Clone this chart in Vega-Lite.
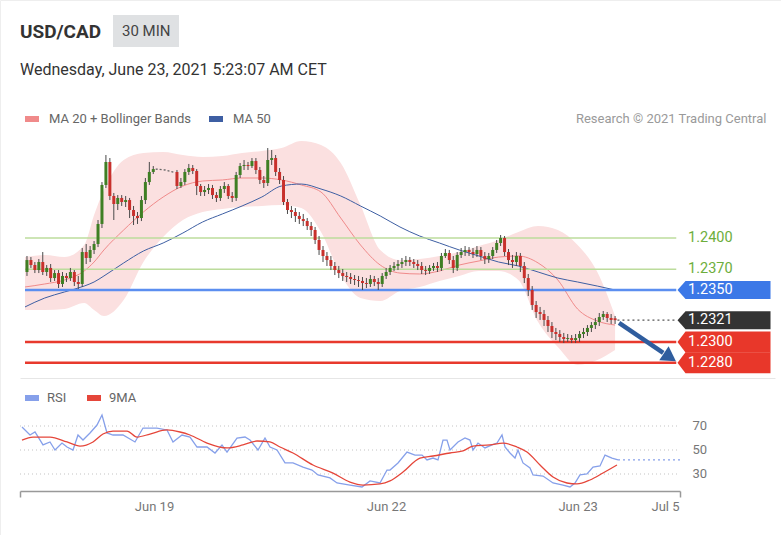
{
  "$schema": "https://vega.github.io/schema/vega-lite/v6.json",
  "width": 781,
  "height": 535,
  "autosize": {"type": "none"},
  "padding": 0,
  "background": "white",
  "title": {
    "text": "USD/CAD",
    "subtitle": "Wednesday, June 23, 2021 5:23:07 AM CET",
    "anchor": "start",
    "frame": "group",
    "orient": "top",
    "offset": 0,
    "dx": 20,
    "dy": 78,
    "fontSize": 19,
    "fontWeight": "bold",
    "color": "#333333",
    "subtitleFontSize": 16,
    "subtitleColor": "#333333",
    "subtitlePadding": 20
  },
  "datasets": {
    "ohlc": [
      {"k":0,"o":1.23673,"h":1.23827,"l":1.23635,"c":1.23788},
      {"k":1,"o":1.23788,"h":1.23817,"l":1.23712,"c":1.23740},
      {"k":2,"o":1.23740,"h":1.23769,"l":1.23663,"c":1.23692},
      {"k":3,"o":1.23692,"h":1.23798,"l":1.23663,"c":1.23769},
      {"k":4,"o":1.23769,"h":1.23865,"l":1.23644,"c":1.23673},
      {"k":5,"o":1.23673,"h":1.23740,"l":1.23635,"c":1.23712},
      {"k":6,"o":1.23712,"h":1.23750,"l":1.23577,"c":1.23615},
      {"k":7,"o":1.23615,"h":1.23692,"l":1.23587,"c":1.23663},
      {"k":8,"o":1.23663,"h":1.23692,"l":1.23519,"c":1.23558},
      {"k":9,"o":1.23558,"h":1.23673,"l":1.23529,"c":1.23635},
      {"k":10,"o":1.23635,"h":1.23663,"l":1.23577,"c":1.23615},
      {"k":11,"o":1.23615,"h":1.23712,"l":1.23587,"c":1.23673},
      {"k":12,"o":1.23673,"h":1.23692,"l":1.23538,"c":1.23577},
      {"k":13,"o":1.23577,"h":1.23635,"l":1.23510,"c":1.23558},
      {"k":14,"o":1.23558,"h":1.23904,"l":1.23529,"c":1.23865},
      {"k":15,"o":1.23865,"h":1.23942,"l":1.23750,"c":1.23808},
      {"k":16,"o":1.23808,"h":1.23923,"l":1.23769,"c":1.23885},
      {"k":17,"o":1.23885,"h":1.23971,"l":1.23846,"c":1.23942},
      {"k":18,"o":1.23942,"h":1.24173,"l":1.23913,"c":1.24135},
      {"k":19,"o":1.24135,"h":1.24538,"l":1.24096,"c":1.24510},
      {"k":20,"o":1.24510,"h":1.24798,"l":1.24481,"c":1.24731},
      {"k":21,"o":1.24731,"h":1.24769,"l":1.24365,"c":1.24404},
      {"k":22,"o":1.24404,"h":1.24433,"l":1.24173,"c":1.24327},
      {"k":23,"o":1.24327,"h":1.24413,"l":1.24269,"c":1.24385},
      {"k":24,"o":1.24385,"h":1.24413,"l":1.24308,"c":1.24346},
      {"k":25,"o":1.24346,"h":1.24404,"l":1.24298,"c":1.24365},
      {"k":26,"o":1.24365,"h":1.24385,"l":1.24192,"c":1.24269},
      {"k":27,"o":1.24269,"h":1.24308,"l":1.24125,"c":1.24212},
      {"k":28,"o":1.24212,"h":1.24250,"l":1.24135,"c":1.24192},
      {"k":29,"o":1.24192,"h":1.24404,"l":1.24163,"c":1.24365},
      {"k":30,"o":1.24365,"h":1.24577,"l":1.24327,"c":1.24538},
      {"k":31,"o":1.24538,"h":1.24731,"l":1.24510,"c":1.24635},
      {"k":32,"o":1.24635,"h":1.24692,"l":1.24615,"c":1.24663},
      {"k":38,"o":1.24635,"h":1.24654,"l":1.24471,"c":1.24500},
      {"k":39,"o":1.24500,"h":1.24577,"l":1.24481,"c":1.24538},
      {"k":40,"o":1.24538,"h":1.24663,"l":1.24510,"c":1.24635},
      {"k":41,"o":1.24635,"h":1.24712,"l":1.24606,"c":1.24673},
      {"k":42,"o":1.24673,"h":1.24702,"l":1.24615,"c":1.24644},
      {"k":43,"o":1.24644,"h":1.24663,"l":1.24413,"c":1.24500},
      {"k":44,"o":1.24500,"h":1.24519,"l":1.24404,"c":1.24442},
      {"k":45,"o":1.24442,"h":1.24500,"l":1.24404,"c":1.24462},
      {"k":46,"o":1.24462,"h":1.24519,"l":1.24423,"c":1.24481},
      {"k":47,"o":1.24481,"h":1.24510,"l":1.24375,"c":1.24413},
      {"k":48,"o":1.24413,"h":1.24442,"l":1.24346,"c":1.24385},
      {"k":49,"o":1.24385,"h":1.24500,"l":1.24356,"c":1.24471},
      {"k":50,"o":1.24471,"h":1.24538,"l":1.24433,"c":1.24500},
      {"k":51,"o":1.24500,"h":1.24519,"l":1.24375,"c":1.24404},
      {"k":52,"o":1.24404,"h":1.24442,"l":1.24346,"c":1.24385},
      {"k":53,"o":1.24385,"h":1.24635,"l":1.24356,"c":1.24606},
      {"k":54,"o":1.24606,"h":1.24721,"l":1.24577,"c":1.24692},
      {"k":55,"o":1.24692,"h":1.24750,"l":1.24654,"c":1.24702},
      {"k":56,"o":1.24702,"h":1.24731,"l":1.24654,"c":1.24692},
      {"k":57,"o":1.24692,"h":1.24769,"l":1.24673,"c":1.24740},
      {"k":58,"o":1.24740,"h":1.24769,"l":1.24615,"c":1.24654},
      {"k":59,"o":1.24654,"h":1.24683,"l":1.24519,"c":1.24558},
      {"k":60,"o":1.24558,"h":1.24596,"l":1.24481,"c":1.24529},
      {"k":61,"o":1.24529,"h":1.24865,"l":1.24500,"c":1.24750},
      {"k":62,"o":1.24750,"h":1.24846,"l":1.24702,"c":1.24769},
      {"k":63,"o":1.24769,"h":1.24798,"l":1.24596,"c":1.24635},
      {"k":64,"o":1.24635,"h":1.24673,"l":1.24519,"c":1.24558},
      {"k":65,"o":1.24558,"h":1.24596,"l":1.24317,"c":1.24346},
      {"k":66,"o":1.24346,"h":1.24375,"l":1.24231,"c":1.24269},
      {"k":67,"o":1.24269,"h":1.24308,"l":1.24192,"c":1.24250},
      {"k":68,"o":1.24250,"h":1.24288,"l":1.24154,"c":1.24212},
      {"k":69,"o":1.24212,"h":1.24250,"l":1.24135,"c":1.24183},
      {"k":70,"o":1.24183,"h":1.24231,"l":1.24115,"c":1.24163},
      {"k":71,"o":1.24163,"h":1.24192,"l":1.24077,"c":1.24115},
      {"k":72,"o":1.24115,"h":1.24154,"l":1.24019,"c":1.24077},
      {"k":73,"o":1.24077,"h":1.24106,"l":1.23942,"c":1.23981},
      {"k":74,"o":1.23981,"h":1.24019,"l":1.23837,"c":1.23885},
      {"k":75,"o":1.23885,"h":1.23923,"l":1.23769,"c":1.23827},
      {"k":76,"o":1.23827,"h":1.23865,"l":1.23731,"c":1.23788},
      {"k":77,"o":1.23788,"h":1.23827,"l":1.23692,"c":1.23731},
      {"k":78,"o":1.23731,"h":1.23769,"l":1.23644,"c":1.23692},
      {"k":79,"o":1.23692,"h":1.23731,"l":1.23615,"c":1.23663},
      {"k":80,"o":1.23663,"h":1.23702,"l":1.23587,"c":1.23635},
      {"k":81,"o":1.23635,"h":1.23673,"l":1.23577,"c":1.23625},
      {"k":82,"o":1.23625,"h":1.23663,"l":1.23558,"c":1.23606},
      {"k":83,"o":1.23606,"h":1.23644,"l":1.23548,"c":1.23596},
      {"k":84,"o":1.23596,"h":1.23635,"l":1.23529,"c":1.23587},
      {"k":85,"o":1.23587,"h":1.23625,"l":1.23500,"c":1.23567},
      {"k":86,"o":1.23567,"h":1.23615,"l":1.23519,"c":1.23558},
      {"k":87,"o":1.23558,"h":1.23644,"l":1.23529,"c":1.23606},
      {"k":88,"o":1.23606,"h":1.23635,"l":1.23538,"c":1.23577},
      {"k":89,"o":1.23577,"h":1.23615,"l":1.23500,"c":1.23558},
      {"k":90,"o":1.23558,"h":1.23663,"l":1.23529,"c":1.23635},
      {"k":91,"o":1.23635,"h":1.23712,"l":1.23606,"c":1.23673},
      {"k":92,"o":1.23673,"h":1.23740,"l":1.23644,"c":1.23712},
      {"k":93,"o":1.23712,"h":1.23769,"l":1.23683,"c":1.23731},
      {"k":94,"o":1.23731,"h":1.23788,"l":1.23692,"c":1.23750},
      {"k":95,"o":1.23750,"h":1.23808,"l":1.23712,"c":1.23769},
      {"k":96,"o":1.23769,"h":1.23827,"l":1.23731,"c":1.23788},
      {"k":97,"o":1.23788,"h":1.23817,"l":1.23731,"c":1.23769},
      {"k":98,"o":1.23769,"h":1.23798,"l":1.23712,"c":1.23750},
      {"k":99,"o":1.23750,"h":1.23788,"l":1.23692,"c":1.23731},
      {"k":100,"o":1.23731,"h":1.23769,"l":1.23654,"c":1.23692},
      {"k":101,"o":1.23692,"h":1.23731,"l":1.23644,"c":1.23683},
      {"k":102,"o":1.23683,"h":1.23740,"l":1.23654,"c":1.23712},
      {"k":103,"o":1.23712,"h":1.23760,"l":1.23683,"c":1.23731},
      {"k":104,"o":1.23731,"h":1.23769,"l":1.23673,"c":1.23712},
      {"k":105,"o":1.23712,"h":1.23856,"l":1.23683,"c":1.23827},
      {"k":106,"o":1.23827,"h":1.23894,"l":1.23808,"c":1.23856},
      {"k":107,"o":1.23856,"h":1.23885,"l":1.23750,"c":1.23788},
      {"k":108,"o":1.23788,"h":1.23827,"l":1.23663,"c":1.23712},
      {"k":109,"o":1.23712,"h":1.23865,"l":1.23683,"c":1.23837},
      {"k":110,"o":1.23837,"h":1.23904,"l":1.23808,"c":1.23865},
      {"k":111,"o":1.23865,"h":1.23923,"l":1.23827,"c":1.23885},
      {"k":112,"o":1.23885,"h":1.23913,"l":1.23827,"c":1.23865},
      {"k":113,"o":1.23865,"h":1.23904,"l":1.23808,"c":1.23846},
      {"k":114,"o":1.23846,"h":1.23923,"l":1.23817,"c":1.23885},
      {"k":115,"o":1.23885,"h":1.23913,"l":1.23788,"c":1.23827},
      {"k":116,"o":1.23827,"h":1.23865,"l":1.23750,"c":1.23798},
      {"k":117,"o":1.23798,"h":1.23856,"l":1.23760,"c":1.23827},
      {"k":118,"o":1.23827,"h":1.23913,"l":1.23798,"c":1.23885},
      {"k":119,"o":1.23885,"h":1.23981,"l":1.23856,"c":1.23952},
      {"k":120,"o":1.23952,"h":1.24029,"l":1.23923,"c":1.24000},
      {"k":121,"o":1.24000,"h":1.24019,"l":1.23827,"c":1.23865},
      {"k":122,"o":1.23865,"h":1.23894,"l":1.23740,"c":1.23788},
      {"k":123,"o":1.23788,"h":1.23837,"l":1.23712,"c":1.23769},
      {"k":124,"o":1.23769,"h":1.23865,"l":1.23731,"c":1.23827},
      {"k":125,"o":1.23827,"h":1.23856,"l":1.23673,"c":1.23731},
      {"k":126,"o":1.23731,"h":1.23769,"l":1.23567,"c":1.23615},
      {"k":127,"o":1.23615,"h":1.23654,"l":1.23442,"c":1.23500},
      {"k":128,"o":1.23500,"h":1.23538,"l":1.23308,"c":1.23356},
      {"k":129,"o":1.23356,"h":1.23394,"l":1.23231,"c":1.23288},
      {"k":130,"o":1.23288,"h":1.23337,"l":1.23212,"c":1.23269},
      {"k":131,"o":1.23269,"h":1.23308,"l":1.23154,"c":1.23212},
      {"k":132,"o":1.23212,"h":1.23250,"l":1.23096,"c":1.23154},
      {"k":133,"o":1.23154,"h":1.23192,"l":1.23038,"c":1.23096},
      {"k":134,"o":1.23096,"h":1.23135,"l":1.23019,"c":1.23077},
      {"k":135,"o":1.23077,"h":1.23115,"l":1.23000,"c":1.23048},
      {"k":136,"o":1.23048,"h":1.23087,"l":1.22990,"c":1.23029},
      {"k":137,"o":1.23029,"h":1.23077,"l":1.23000,"c":1.23038},
      {"k":138,"o":1.23038,"h":1.23067,"l":1.22990,"c":1.23019},
      {"k":139,"o":1.23019,"h":1.23077,"l":1.22990,"c":1.23038},
      {"k":140,"o":1.23038,"h":1.23106,"l":1.23000,"c":1.23077},
      {"k":141,"o":1.23077,"h":1.23135,"l":1.23038,"c":1.23096},
      {"k":142,"o":1.23096,"h":1.23163,"l":1.23058,"c":1.23135},
      {"k":143,"o":1.23135,"h":1.23192,"l":1.23096,"c":1.23163},
      {"k":144,"o":1.23163,"h":1.23231,"l":1.23125,"c":1.23192},
      {"k":145,"o":1.23192,"h":1.23279,"l":1.23154,"c":1.23240},
      {"k":146,"o":1.23240,"h":1.23298,"l":1.23212,"c":1.23269},
      {"k":147,"o":1.23269,"h":1.23288,"l":1.23192,"c":1.23231},
      {"k":148,"o":1.23231,"h":1.23269,"l":1.23173,"c":1.23212},
      {"k":149,"o":1.23228,"h":1.23250,"l":1.23173,"c":1.23210}
    ],
    "bands": [
      {"k":-0.5,"ma":1.23529,"up":1.23817,"lo":1.23308,"m50":1.23337},
      {"k":4.5,"ma":1.23558,"up":1.23837,"lo":1.23308,"m50":1.23423},
      {"k":9.5,"ma":1.23596,"up":1.23817,"lo":1.23317,"m50":1.23481},
      {"k":14.5,"ma":1.23683,"up":1.23933,"lo":1.23375,"m50":1.23538},
      {"k":17,"ma":1.23769,"up":1.24221,"lo":1.23308,"m50":1.23577},
      {"k":19.5,"ma":1.23885,"up":1.24462,"lo":1.23250,"m50":1.23635},
      {"k":24.5,"ma":1.24077,"up":1.24750,"lo":1.23404,"m50":1.23760},
      {"k":29.5,"ma":1.24250,"up":1.24817,"lo":1.23769,"m50":1.23875},
      {"k":34.5,"ma":1.24394,"up":1.24827,"lo":1.24010,"m50":1.23952},
      {"k":39.5,"ma":1.24500,"up":1.24798,"lo":1.24173,"m50":1.24048},
      {"k":44.5,"ma":1.24548,"up":1.24779,"lo":1.24250,"m50":1.24154},
      {"k":49.5,"ma":1.24558,"up":1.24788,"lo":1.24279,"m50":1.24231},
      {"k":54.5,"ma":1.24577,"up":1.24817,"lo":1.24298,"m50":1.24308},
      {"k":59.5,"ma":1.24577,"up":1.24837,"lo":1.24308,"m50":1.24394},
      {"k":64.5,"ma":1.24558,"up":1.24865,"lo":1.24317,"m50":1.24500},
      {"k":69.5,"ma":1.24510,"up":1.24933,"lo":1.24288,"m50":1.24519},
      {"k":74.5,"ma":1.24442,"up":1.24894,"lo":1.24058,"m50":1.24471},
      {"k":79.5,"ma":1.24192,"up":1.24721,"lo":1.23644,"m50":1.24404},
      {"k":84.5,"ma":1.23933,"up":1.24317,"lo":1.23423,"m50":1.24308},
      {"k":89.5,"ma":1.23740,"up":1.23885,"lo":1.23394,"m50":1.24212},
      {"k":94.5,"ma":1.23663,"up":1.23788,"lo":1.23490,"m50":1.24106},
      {"k":99.5,"ma":1.23654,"up":1.23798,"lo":1.23529,"m50":1.24019},
      {"k":104.5,"ma":1.23683,"up":1.23827,"lo":1.23587,"m50":1.23952},
      {"k":109.5,"ma":1.23740,"up":1.23865,"lo":1.23635,"m50":1.23885},
      {"k":114.5,"ma":1.23779,"up":1.23923,"lo":1.23683,"m50":1.23827},
      {"k":119.5,"ma":1.23817,"up":1.23981,"lo":1.23683,"m50":1.23769},
      {"k":124.5,"ma":1.23827,"up":1.24058,"lo":1.23596,"m50":1.23731},
      {"k":129.5,"ma":1.23760,"up":1.24115,"lo":1.23192,"m50":1.23673},
      {"k":134.5,"ma":1.23596,"up":1.24077,"lo":1.22952,"m50":1.23615},
      {"k":139.5,"ma":1.23317,"up":1.23933,"lo":1.22779,"m50":1.23577},
      {"k":144.5,"ma":1.23202,"up":1.23673,"lo":1.22827,"m50":1.23538},
      {"k":149,"ma":1.23163,"up":1.23250,"lo":1.22923,"m50":1.23500}
    ],
    "gap": [
      {"k":32.6,"p":1.24663},
      {"k":35,"p":1.24654},
      {"k":37.4,"p":1.24630}
    ],
    "levels": [
      {"p":1.2400,"label":"1.2400","kind":"res"},
      {"p":1.2370,"label":"1.2370","kind":"res"},
      {"p":1.2350,"label":"1.2350","kind":"pivot"},
      {"p":1.2321,"label":"1.2321","kind":"last"},
      {"p":1.2300,"label":"1.2300","kind":"sup"},
      {"p":1.2280,"label":"1.2280","kind":"sup"}
    ],
    "rsi": [
      {"k":0,"v":69.2},{"k":2,"v":62.5},{"k":3.25,"v":65},{"k":5.25,"v":54.2},
      {"k":7,"v":56.7},{"k":8.25,"v":50},{"k":10,"v":55.8},{"k":11.25,"v":52.5},
      {"k":12.75,"v":50},{"k":14,"v":62.5},{"k":15.25,"v":58.3},{"k":17,"v":64.2},
      {"k":18.75,"v":70.8},{"k":20,"v":79.2},{"k":21.25,"v":64.2},{"k":22.75,"v":62.5},
      {"k":25.25,"v":62.5},{"k":28.25,"v":56.7},{"k":30.25,"v":68.3},{"k":33.75,"v":68.3},
      {"k":36.25,"v":66.7},{"k":37.75,"v":56.7},{"k":40,"v":62.5},{"k":42,"v":60.8},
      {"k":43.75,"v":52.5},{"k":46.25,"v":52.5},{"k":48.25,"v":47.5},{"k":50,"v":54.2},
      {"k":51.25,"v":48.3},{"k":53.75,"v":60},{"k":55.75,"v":60.8},{"k":57,"v":58.3},
      {"k":59,"v":50},{"k":60.75,"v":60},{"k":62,"v":52.5},{"k":63.75,"v":50},
      {"k":65.75,"v":39.2},{"k":67.75,"v":39.2},{"k":70.25,"v":35.8},{"k":72.5,"v":33.3},
      {"k":74,"v":29.2},{"k":77,"v":26.7},{"k":78.75,"v":22.5},{"k":82,"v":20.8},
      {"k":85,"v":19.2},{"k":87,"v":24.2},{"k":89.5,"v":22.5},{"k":91.25,"v":33.3},
      {"k":92,"v":33.3},{"k":94,"v":39.2},{"k":96.25,"v":48.3},{"k":98.25,"v":45.8},
      {"k":100,"v":45.8},{"k":101.25,"v":41.7},{"k":102.75,"v":43.3},{"k":104,"v":41.7},
      {"k":105.25,"v":58.3},{"k":106.25,"v":58.3},{"k":107,"v":50},{"k":109,"v":56.7},
      {"k":110.75,"v":60},{"k":112,"v":58.3},{"k":112.75,"v":50},{"k":114,"v":55.8},
      {"k":115.75,"v":51.7},{"k":117.5,"v":54.2},{"k":118.75,"v":55.8},{"k":120,"v":62.5},
      {"k":120.75,"v":52.5},{"k":122,"v":47.5},{"k":123.25,"v":43.3},{"k":124,"v":50},
      {"k":125.25,"v":39.2},{"k":127,"v":35},{"k":127.75,"v":29.2},{"k":130.25,"v":28.3},
      {"k":132.75,"v":22.5},{"k":135.25,"v":20.8},{"k":137,"v":19.2},{"k":138.25,"v":22.5},
      {"k":139.5,"v":29.2},{"k":141.25,"v":30},{"k":142.75,"v":35.8},{"k":144.5,"v":36.7},
      {"k":145.75,"v":45.8},{"k":147.5,"v":43.3},{"k":149,"v":41.7}
    ],
    "ma9": [
      {"k":0,"v":58.3},{"k":2.75,"v":60.8},{"k":7,"v":60.8},{"k":11.25,"v":56.7},
      {"k":14.5,"v":53.3},{"k":17.75,"v":56.7},{"k":20.25,"v":63.3},{"k":22.75,"v":65.8},
      {"k":26.25,"v":65.8},{"k":28.75,"v":60.8},{"k":32,"v":63.3},{"k":36.25,"v":66.7},
      {"k":39.5,"v":65},{"k":42,"v":62.5},{"k":46.25,"v":55.8},{"k":51.25,"v":51.7},
      {"k":55.25,"v":54.2},{"k":58.75,"v":57.5},{"k":62,"v":56.7},{"k":64.5,"v":52.5},
      {"k":67.75,"v":47.5},{"k":72.75,"v":37.5},{"k":77.75,"v":30.8},{"k":82,"v":23.3},
      {"k":85.25,"v":20.8},{"k":89.5,"v":21.7},{"k":92,"v":24.2},{"k":95.25,"v":31.7},
      {"k":99.5,"v":43.3},{"k":102.75,"v":45},{"k":107,"v":47.5},{"k":110.25,"v":49.2},
      {"k":112.75,"v":53.3},{"k":117,"v":54.2},{"k":120.25,"v":55.8},{"k":123.75,"v":52.5},
      {"k":126.25,"v":48.3},{"k":129.5,"v":37.5},{"k":132.75,"v":27.5},{"k":136.25,"v":22.5},
      {"k":138.75,"v":21.7},{"k":142,"v":25},{"k":145.25,"v":30.8},{"k":148.75,"v":37.5}
    ],
    "rsigrid": [{"lvl":30},{"lvl":50},{"lvl":70}]
  },
  "layer": [
    {
      "layer": [
        {
          "data": {"name": "bands"},
          "mark": {"type": "area", "interpolate": "monotone", "color": "#fbe0e0"},
          "encoding": {
            "x": {
              "field": "k", "type": "quantitative",
              "scale": {"domain": [-0.5, 188.25], "range": [20, 775], "nice": false, "zero": false},
              "axis": {"orient": "bottom", "offset": -157, "labels": false, "ticks": false, "grid": false, "domainColor": "#e6e6e6", "title": null}
            },
            "y": {
              "field": "up", "type": "quantitative",
              "scale": {"domain": [1.226827, 1.249904], "range": [375, 135], "nice": false, "zero": false},
              "axis": {
                "orient": "right", "offset": -15, "labels": false, "ticks": false, "domain": false, "grid": false,
                "title": "Research © 2021 Trading Central", "titleAngle": 0, "titleAlign": "right", "titleBaseline": "middle",
                "titleX": 0, "titleY": 118, "titleColor": "#9a9a9a", "titleFontSize": 13, "titleFontWeight": "normal"
              }
            },
            "y2": {"field": "lo"}
          }
        },
        {
          "data": {"name": "bands"},
          "mark": {"type": "line", "interpolate": "monotone", "strokeWidth": 1},
          "encoding": {
            "x": {"field": "k", "type": "quantitative"},
            "y": {"field": "ma", "type": "quantitative"},
            "color": {
              "datum": "MA 20 + Bollinger Bands",
              "scale": {"domain": ["MA 20 + Bollinger Bands", "MA 50"], "range": ["#f08a8a", "#3e5fa3"]},
              "legend": {
                "orient": "none", "legendX": 22, "legendY": 109, "direction": "horizontal", "title": null,
                "symbolType": "stroke", "symbolStrokeWidth": 6, "symbolSize": 196,
                "labelFontSize": 13, "labelColor": "#666666", "labelOffset": 7, "columnPadding": 6, "padding": 0
              }
            }
          }
        },
        {
          "data": {"name": "bands"},
          "mark": {"type": "line", "interpolate": "monotone", "strokeWidth": 1},
          "encoding": {
            "x": {"field": "k", "type": "quantitative"},
            "y": {"field": "m50", "type": "quantitative"},
            "color": {"datum": "MA 50"}
          }
        },
        {
          "data": {"name": "levels"},
          "transform": [{"filter": "datum.kind == 'res'"}],
          "mark": {"type": "rule", "color": "#bcdc9c", "strokeWidth": 1.5},
          "encoding": {
            "x": {"datum": -0.5},
            "x2": {"datum": 164.5},
            "y": {"field": "p", "type": "quantitative"}
          }
        },
        {
          "data": {"name": "levels"},
          "transform": [{"filter": "datum.kind == 'pivot'"}],
          "mark": {"type": "rule", "color": "#5b8ef0", "strokeWidth": 2.5},
          "encoding": {
            "x": {"datum": -0.5},
            "x2": {"datum": 164.5},
            "y": {"field": "p", "type": "quantitative"}
          }
        },
        {
          "data": {"name": "levels"},
          "transform": [{"filter": "datum.kind == 'sup'"}],
          "mark": {"type": "rule", "color": "#e8392d", "strokeWidth": 2.5},
          "encoding": {
            "x": {"datum": -0.5},
            "x2": {"datum": 164.5},
            "y": {"field": "p", "type": "quantitative"}
          }
        },
        {
          "data": {"values": [{}]},
          "mark": {"type": "rule", "color": "#555555", "strokeWidth": 1.2},
          "encoding": {
            "x": {"datum": 149.6},
            "x2": {"datum": 164.5},
            "y": {"datum": 1.2321},
            "strokeDash": {
              "datum": "30 MIN",
              "scale": {"range": [[2, 3]]},
              "legend": {
                "orient": "none", "legendX": 113, "legendY": 15, "title": null,
                "fillColor": "#dfe1e3", "padding": 8,
                "symbolOpacity": 0, "symbolSize": 0, "symbolStrokeWidth": 0,
                "labelOffset": -14, "labelFontSize": 15, "labelColor": "#444444"
              }
            }
          }
        },
        {
          "data": {"name": "ohlc"},
          "mark": {"type": "rule", "color": "#4a4a4a", "strokeWidth": 1},
          "encoding": {
            "x": {"field": "k", "type": "quantitative"},
            "y": {"field": "l", "type": "quantitative"},
            "y2": {"field": "h"}
          }
        },
        {
          "data": {"name": "ohlc"},
          "mark": {"type": "bar", "width": 3},
          "encoding": {
            "x": {"field": "k", "type": "quantitative"},
            "y": {"field": "o", "type": "quantitative"},
            "y2": {"field": "c"},
            "color": {"condition": {"test": "datum.c >= datum.o", "value": "#3f7f24"}, "value": "#c8302c"}
          }
        },
        {
          "data": {"name": "gap"},
          "mark": {"type": "line", "strokeDash": [2, 2], "color": "#666666", "strokeWidth": 1.3},
          "encoding": {
            "x": {"field": "k", "type": "quantitative"},
            "y": {"field": "p", "type": "quantitative"}
          }
        },
        {
          "data": {"values": [{}]},
          "mark": {"type": "rule", "color": "#2f5d9e", "strokeWidth": 4.5},
          "encoding": {
            "x": {"datum": 150},
            "x2": {"datum": 161.2},
            "y": {"datum": 1.23183},
            "y2": {"datum": 1.22895}
          }
        },
        {
          "data": {"values": [{}]},
          "mark": {"type": "point", "shape": "triangle-up", "angle": 124, "size": 280, "filled": true, "opacity": 1, "color": "#2f5d9e"},
          "encoding": {
            "x": {"datum": 162.9},
            "y": {"datum": 1.22853}
          }
        },
        {
          "data": {"name": "levels"},
          "transform": [{"filter": "datum.kind != 'res'"}],
          "mark": {"type": "point", "filled": true, "opacity": 1, "size": 8649, "strokeWidth": 0},
          "encoding": {
            "x": {"datum": 176.6},
            "y": {"field": "p", "type": "quantitative"},
            "shape": {
              "field": "kind", "type": "nominal",
              "scale": {
                "domain": ["pivot", "last", "sup"],
                "range": [
                  "M-1,0L-0.828,-0.194L1,-0.194L1,0.194L-0.828,0.194Z",
                  "M-1,0L-0.828,-0.194L1,-0.194L1,0.194L-0.828,0.194Z",
                  "M-1,0L-0.828,-0.226L1,-0.226L1,0.226L-0.828,0.226Z"
                ]
              },
              "legend": null
            },
            "fill": {
              "field": "kind", "type": "nominal",
              "scale": {"domain": ["pivot", "last", "sup"], "range": ["#3b78e7", "#333333", "#e8372a"]},
              "legend": null
            }
          }
        },
        {
          "data": {"name": "levels"},
          "mark": {"type": "text", "align": "left", "baseline": "middle", "fontSize": 14.5},
          "encoding": {
            "x": {"datum": 167.5},
            "y": {"field": "p", "type": "quantitative"},
            "text": {"field": "label"},
            "color": {"condition": {"test": "datum.kind == 'res'", "value": "#6dae3c"}, "value": "#ffffff"}
          }
        }
      ]
    },
    {
      "layer": [
        {
          "data": {"name": "rsigrid"},
          "mark": {"type": "rule", "color": "#c4c4c4", "strokeDash": [1, 3], "strokeWidth": 1.2},
          "encoding": {
            "x": {"datum": -0.5},
            "x2": {"datum": 164.5},
            "y": {"field": "lvl", "type": "quantitative"}
          }
        },
        {
          "data": {"name": "rsi"},
          "mark": {"type": "line", "strokeWidth": 1.3},
          "encoding": {
            "x": {
              "field": "k", "type": "quantitative",
              "scale": {"domain": [-0.5, 164.5], "range": [20, 680], "nice": false, "zero": false},
              "axis": {
                "orient": "bottom", "offset": -44, "title": null, "grid": false,
                "values": [-0.5, 33, 91, 138.9, 160.75, 164.5],
                "labelExpr": "datum.value == 33 ? 'Jun 19' : datum.value == 91 ? 'Jun 22' : datum.value == 138.9 ? 'Jun 23' : datum.value == 160.75 ? 'Jul 5' : ''",
                "tickColor": {"condition": {"test": "datum.value < 0 || datum.value > 164", "value": "#999999"}, "value": "transparent"},
                "tickSize": 6, "tickWidth": 1.5, "domainColor": "#999999", "domainWidth": 1.5,
                "labelColor": "#777777", "labelFontSize": 13, "labelPadding": 3,
                "labelOverlap": false, "labelFlush": false, "labelBound": false
              }
            },
            "y": {
              "field": "v", "type": "quantitative",
              "scale": {"domain": [15.833, 85], "range": [491, 408], "nice": false, "zero": false},
              "axis": {
                "orient": "right", "offset": -91, "title": null, "values": [30, 50, 70],
                "ticks": false, "domain": false, "grid": false,
                "labelPadding": 2, "labelColor": "#777777", "labelFontSize": 13
              }
            },
            "color": {
              "datum": "RSI",
              "scale": {"domain": ["RSI", "9MA"], "range": ["#86a0ea", "#e5463a"]},
              "legend": {
                "orient": "none", "legendX": 22, "legendY": 388, "direction": "horizontal", "title": null,
                "symbolType": "stroke", "symbolStrokeWidth": 6, "symbolSize": 196,
                "labelFontSize": 13, "labelColor": "#666666", "labelOffset": 5, "columnPadding": 8, "padding": 0
              }
            }
          }
        },
        {
          "data": {"name": "ma9"},
          "mark": {"type": "line", "strokeWidth": 1.3, "interpolate": "monotone"},
          "encoding": {
            "x": {"field": "k", "type": "quantitative"},
            "y": {"field": "v", "type": "quantitative"},
            "color": {"datum": "9MA"}
          }
        },
        {
          "data": {"values": [{}]},
          "mark": {"type": "rule", "color": "#86a0ea", "strokeDash": [2, 3], "strokeWidth": 1.3},
          "encoding": {
            "x": {"datum": 149},
            "x2": {"datum": 164.5},
            "y": {"datum": 41.7}
          }
        }
      ]
    }
  ],
  "resolve": {
    "scale": {"x": "independent", "y": "independent", "color": "independent"},
    "legend": {"color": "independent"}
  },
  "config": {
    "font": "Roboto",
    "view": {"stroke": "#eeeeee"}
  }
}
